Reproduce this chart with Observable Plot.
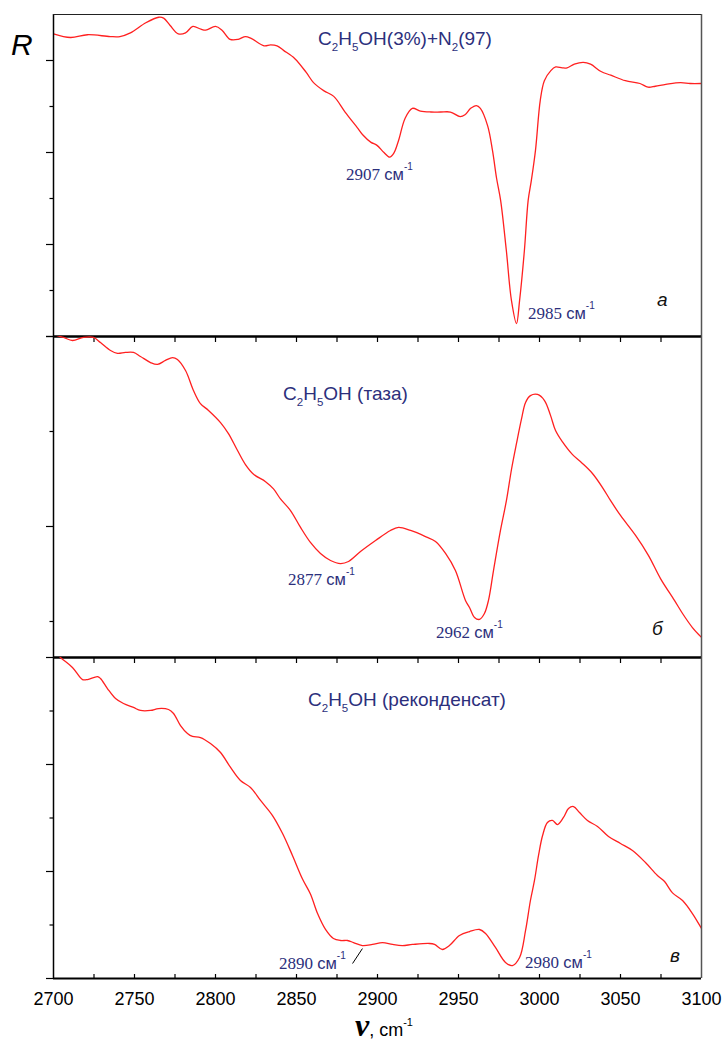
<!DOCTYPE html>
<html><head><meta charset="utf-8">
<script src="https://cdn.jsdelivr.net/npm/d3@7"></script>
<script src="https://cdn.jsdelivr.net/npm/@observablehq/plot@0.6"></script>
<style>
body{margin:0;background:#fff;}
#wrap{position:relative;width:724px;height:1044px;background:#fff;}
#wrap svg{position:absolute;left:0;top:0;}
</style></head><body><div id="wrap"></div>
<script>
// ---------- data ----------
const wnA = [2700,2710.5,2721,2735,2741,2747.5,2757,2765,2768,2772,2777,2781.5,2786,2791,2794,2800,2804,2809,2814,2818.5,2822,2830,2834,2838,2842,2849,2856,2860.5,2867,2873,2880,2888,2891,2896,2899.5,2904,2907.5,2910,2913,2917,2921.5,2926.5,2933,2939,2945,2951,2954,2957.5,2961,2963.5,2968,2971,2973.5,2976,2979.5,2982.7,2985.8,2987.7,2990.7,2993,2995,2997.5,3000.5,3003,3007,3010,3014,3017,3021.5,3027,3031.5,3038,3044,3053,3062,3067,3071.5,3078,3087,3093,3100];
const rA = [3.29,3.25,3.28,3.26,3.26,3.30,3.41,3.47,3.46,3.38,3.29,3.30,3.37,3.34,3.33,3.37,3.33,3.23,3.23,3.26,3.24,3.16,3.17,3.16,3.11,3.02,2.87,2.76,2.67,2.61,2.44,2.26,2.19,2.11,2.08,2.0,1.95,1.99,2.13,2.37,2.48,2.45,2.44,2.44,2.44,2.39,2.41,2.48,2.51,2.48,2.29,2.02,1.72,1.48,0.94,0.39,0.14,0.39,0.94,1.48,1.70,2.02,2.57,2.78,2.89,2.93,2.92,2.92,2.96,2.98,2.96,2.88,2.84,2.78,2.75,2.71,2.72,2.74,2.76,2.75,2.75];

const wnB = [2700,2706.2,2711.7,2718.5,2724.7,2729,2735.2,2739.5,2744.4,2749.4,2753.7,2759.9,2764.2,2769.1,2773.5,2776.5,2781.5,2786.4,2790.7,2795.7,2803.1,2808,2813.6,2818.5,2823.5,2830.9,2835.8,2840.1,2846.3,2852.5,2858.6,2864.8,2871,2877.2,2882.1,2889.5,2898.8,2908,2913,2920.4,2929.6,2935.8,2942,2948.1,2954.3,2956.8,2959.9,2963,2966,2968.5,2971.6,2975.9,2979.6,2982.7,2985.8,2988.9,2991.4,2994.4,2998.8,3003.1,3006.8,3009.9,3014.2,3020.4,3026.5,3032.7,3038.9,3043.8,3050,3059.3,3067.3,3074.7,3083.3,3088.3,3094.4,3100];
const rB = [2.01,1.995,1.979,1.995,1.995,1.968,1.926,1.911,1.916,1.916,1.895,1.863,1.853,1.874,1.889,1.879,1.821,1.716,1.647,1.611,1.547,1.489,1.40,1.326,1.275,1.236,1.198,1.145,1.084,0.995,0.916,0.858,0.821,0.805,0.816,0.868,0.926,0.979,0.995,0.979,0.947,0.921,0.858,0.768,0.611,0.574,0.521,0.511,0.542,0.611,0.768,0.979,1.137,1.30,1.437,1.566,1.653,1.689,1.695,1.663,1.585,1.505,1.445,1.378,1.332,1.279,1.205,1.137,1.058,0.953,0.847,0.726,0.611,0.542,0.468,0.416];

const wnC = [2700,2704.3,2711.7,2717.9,2721,2727.2,2729,2733.3,2738.3,2743.2,2749.4,2753.7,2759.9,2764.8,2771,2774.1,2778.4,2782.7,2785.8,2790.7,2796.9,2803.1,2809.3,2815.4,2821.6,2827.8,2835.2,2841.4,2847.5,2853.7,2858.6,2863,2867.9,2872.8,2877.2,2881.5,2885.2,2890.7,2896.9,2903.1,2909.3,2915.4,2921.6,2932.1,2935.2,2940.1,2944.4,2950.6,2956.8,2963,2966.7,2972.8,2979,2983.3,2987.7,2991.4,2994.4,2996.9,2999.4,3001.9,3004.9,3008,3011.1,3014.8,3017.9,3021,3024.7,3029.6,3035.8,3042.6,3050,3057.4,3065.4,3072.8,3077.2,3082.1,3088.3,3094.4,3100];
const rC = [3.065,3.0,2.907,2.794,2.794,2.822,2.804,2.71,2.617,2.57,2.533,2.505,2.505,2.523,2.514,2.477,2.364,2.29,2.262,2.252,2.196,2.112,1.972,1.85,1.785,1.664,1.523,1.355,1.15,0.93,0.79,0.607,0.459,0.374,0.355,0.355,0.336,0.308,0.318,0.336,0.318,0.308,0.318,0.327,0.318,0.271,0.308,0.402,0.439,0.458,0.421,0.29,0.15,0.121,0.196,0.449,0.729,0.916,1.15,1.336,1.458,1.477,1.439,1.505,1.589,1.607,1.551,1.477,1.421,1.327,1.262,1.196,1.084,0.963,0.906,0.800,0.729,0.607,0.467];

const xTickLabels = [2700,2750,2800,2850,2900,2950,3000,3050,3100];
const xTicksInner = [2725,2750,2775,2800,2825,2850,2875,2900,2925,2950,2975,3000,3025,3050,3075];
const yMajorA = [0,1,2,3], yMinorA = [0.5,1.5,2.5];
const yMajorB = [1,2],     yMinorB = [0.5,1.5];
const yMajorC = [0,1,2,3], yMinorC = [0.5,1.5,2.5];

const titleA = [["C",0],["2",1],["H",0],["5",1],["OH(3%)+N",0],["2",1],["(97)",0]];
const titleB = [["C",0],["2",1],["H",0],["5",1],["OH (таза)",0]];
const titleC = [["C",0],["2",1],["H",0],["5",1],["OH (реконденсат)",0]];
const titleAnchorA = [2863.6, 3.163], titleAnchorB = [2842, 1.663], titleAnchorC = [2857.4, 2.542];

const peaksA = [{wn:2880.9, r:1.696, label:"2907"}, {wn:2993.2, r:0.185, label:"2985"}];
const peaksB = [{wn:2845.1, r:0.689, label:"2877"}, {wn:2936.4, r:0.411, label:"2962"}];
const peaksC = [{wn:2839.5, r:0.084, label:"2890"}, {wn:2991.4, r:0.093, label:"2980"}];
const leaderC = [{x1:2884.6, y1:0.14, x2:2890.7, y2:0.28}];
const letterA = {wn:3072.8, r:0.326, t:"а"}, letterB = {wn:3069.8, r:0.426, t:"б"}, letterC = {wn:3080.9, r:0.150, t:"в"};

// ---------- styling ----------
const SANS = "'Liberation Sans', Arial, sans-serif";
const SERIF = "'Liberation Serif', 'Times New Roman', serif";
const NAVY = "#2c2f7c";
const RED = "#ff2020";
const W = 724, H = 1044;
const wrap = document.getElementById("wrap");

function panel(o) {
  const data = o.wn.map((x, i) => ({x, y: o.r[i]}));
  const marks = [
    Plot.line(data, {x: "x", y: "y", stroke: RED, strokeWidth: 1.3, curve: "catmull-rom", clip: true}),
    Plot.ruleX([2700], {stroke: "#000", strokeWidth: 1.5}),
    Plot.ruleX([3100], {stroke: "#555", strokeWidth: 1.5}),
    Plot.axisY(o.major, {tickSize: 7, tickFormat: () => "", stroke: "#000", strokeWidth: 1.2}),
    Plot.axisY(o.minor, {tickSize: 3.5, tickFormat: () => "", stroke: "#000", strokeWidth: 1.2}),
  ];
  if (o.topBorder) marks.push(Plot.ruleY([o.domain[1]], {stroke: "#222", strokeWidth: 1.2}));
  if (o.last) {
    marks.push(Plot.ruleY([o.domain[0]], {stroke: "#000", strokeWidth: 2}));
    marks.push(Plot.tickX(xTicksInner, {x: d => d, insetTop: (o.bottom - o.top) - 4, stroke: "#000", strokeWidth: 1.2}));
    marks.push(Plot.axisX(xTickLabels, {tickSize: 0, tickPadding: 14, fontSize: 18, fontFamily: SANS, fill: "#000", tickFormat: d => String(d)}));
    marks.push(Plot.link(leaderC, {x1: "x1", y1: "y1", x2: "x2", y2: "y2", stroke: "#000", strokeWidth: 1}));
  } else {
    marks.push(Plot.ruleY([o.domain[0]], {stroke: "#000", strokeWidth: 2.5}));
    marks.push(Plot.axisX(xTicksInner, {tickSize: 6, tickFormat: () => "", stroke: "#000", strokeWidth: 1.2}));
  }
  const svg = Plot.plot({
    width: W, height: H,
    marginTop: o.top, marginBottom: H - o.bottom, marginLeft: 53, marginRight: 23,
    x: {domain: [2700, 3100], label: null},
    y: {domain: o.domain, label: null},
    style: {background: "none", overflow: "visible"},
    marks
  });
  wrap.appendChild(svg);
  const sx = svg.scale("x"), sy = svg.scale("y");
  const g = d3.select(svg).append("g").attr("text-anchor", "start");
  // title
  const tt = g.append("text").attr("x", sx.apply(o.title[0])).attr("y", sy.apply(o.title[1]))
    .attr("fill", NAVY).attr("font-family", SANS).attr("font-size", 19);
  let sub = false;
  for (const [s, isSub] of o.titlePieces) {
    const ts = tt.append("tspan").text(s);
    if (isSub && !sub) { ts.attr("dy", 6).attr("font-size", 11.5); sub = true; }
    else if (isSub) { ts.attr("font-size", 11.5); }
    else if (sub) { ts.attr("dy", -6); sub = false; }
  }
  // peak labels
  for (const p of o.peaks) {
    const t = g.append("text").attr("x", sx.apply(p.wn)).attr("y", sy.apply(p.r)).attr("fill", NAVY);
    t.append("tspan").attr("font-family", SERIF).attr("font-size", 17).text(p.label + " ");
    t.append("tspan").attr("font-family", SANS).attr("font-size", 16.5).text("см");
    t.append("tspan").attr("font-family", SANS).attr("font-size", 10).attr("dy", -10).text("-1");
  }
  // panel letter
  g.append("text").attr("x", sx.apply(o.letter.wn)).attr("y", sy.apply(o.letter.r))
    .attr("font-family", SANS).attr("font-style", "italic").attr("font-size", 19).attr("fill", "#111").text(o.letter.t);
  return svg;
}

const svgA = panel({wn: wnA, r: rA, top: 14, bottom: 336, domain: [0, 3.5], major: yMajorA, minor: yMinorA,
  topBorder: true, title: titleAnchorA, titlePieces: titleA, peaks: peaksA, letter: letterA});
const svgB = panel({wn: wnB, r: rB, top: 336, bottom: 657, domain: [0.3105, 2], major: yMajorB, minor: yMinorB,
  title: titleAnchorB, titlePieces: titleB, peaks: peaksB, letter: letterB});
const svgC = panel({wn: wnC, r: rC, top: 657, bottom: 978, domain: [0, 3], major: yMajorC, minor: yMinorC,
  last: true, title: titleAnchorC, titlePieces: titleC, peaks: peaksC, letter: letterC});

// y-axis title
d3.select(svgA).append("text").attr("x", 11).attr("y", 55).attr("text-anchor", "start").attr("font-family", SANS)
  .attr("font-style", "italic").attr("font-size", 30).attr("fill", "#000").text("R");
// x-axis title
const xt = d3.select(svgC).append("text").attr("x", 355).attr("y", 1036).attr("text-anchor", "start").attr("fill", "#000");
xt.append("tspan").attr("font-family", SERIF).attr("font-style", "italic").attr("font-weight", "bold").attr("font-size", 32).text("ν");
xt.append("tspan").attr("font-family", SANS).attr("font-size", 18).text(", cm");
xt.append("tspan").attr("font-family", SANS).attr("font-size", 11).attr("dy", -10).text("-1");
</script>
</body></html>
